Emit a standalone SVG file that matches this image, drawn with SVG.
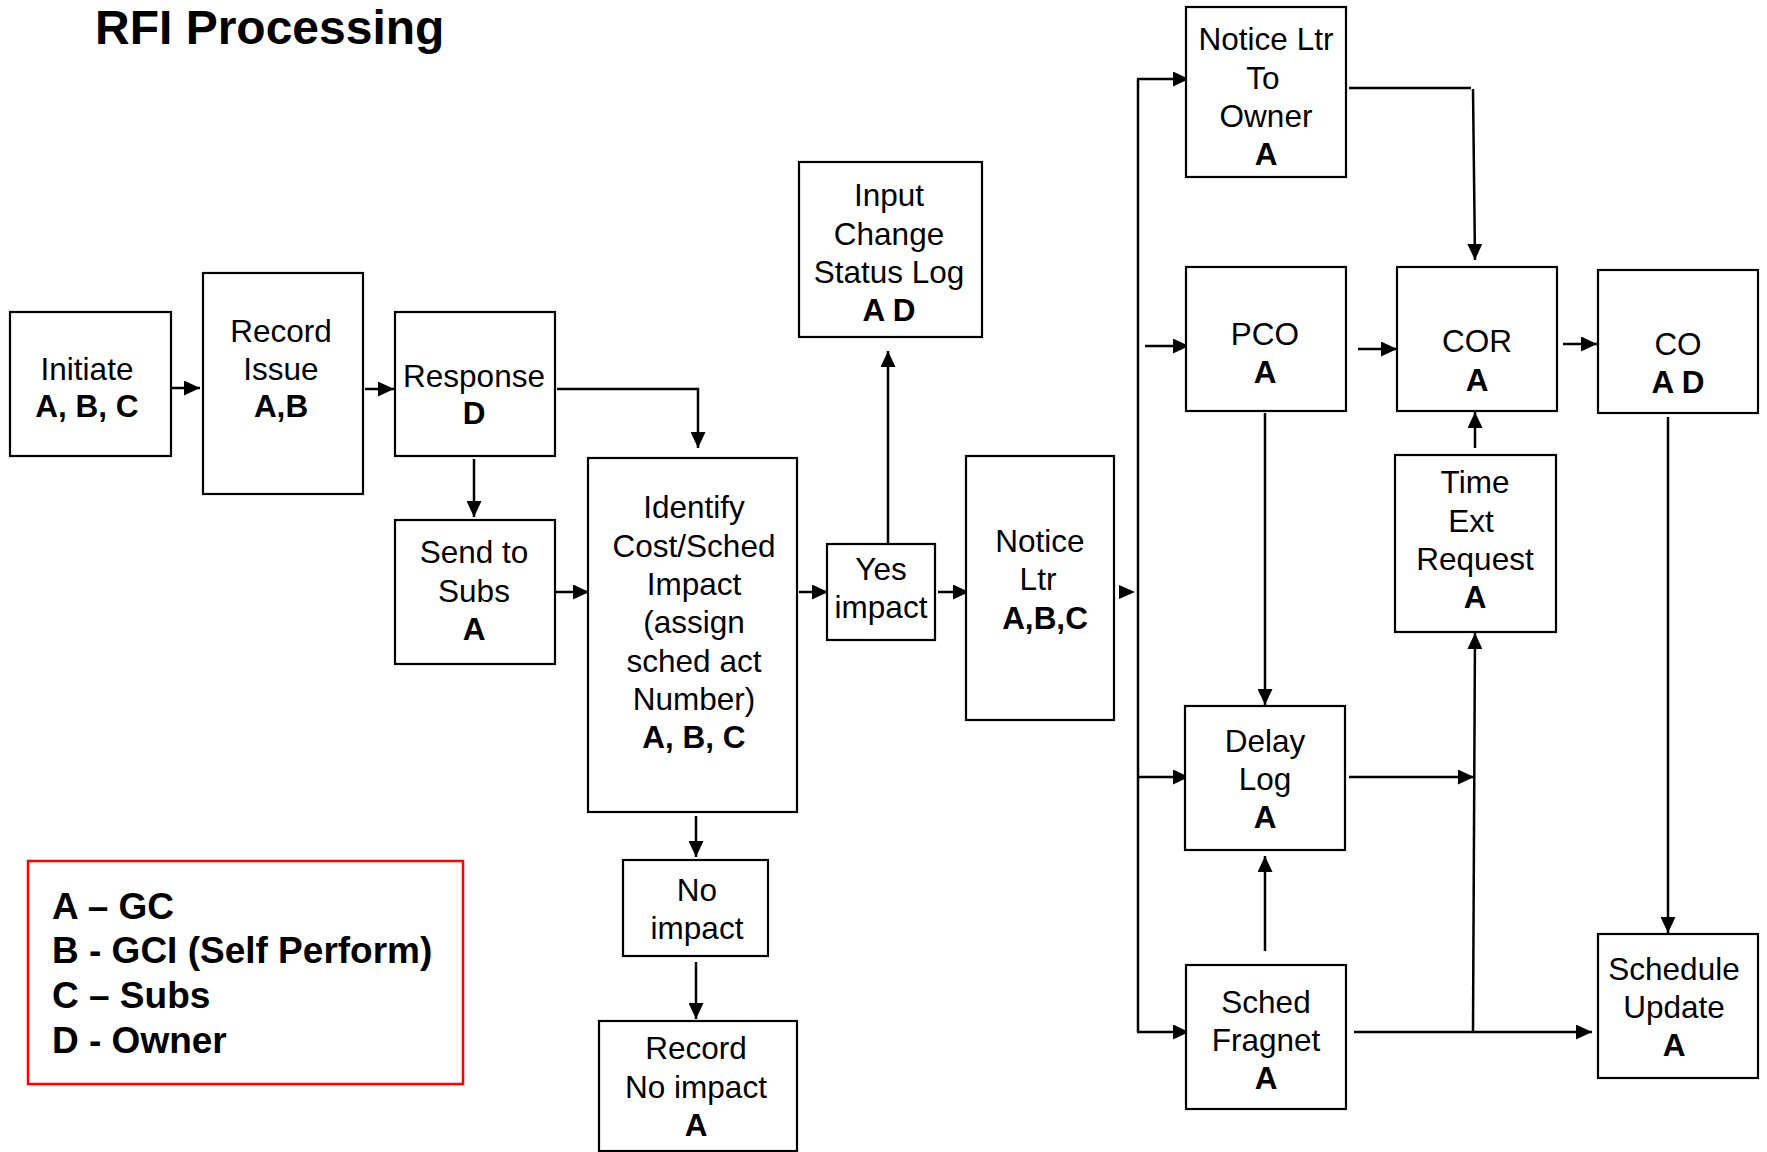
<svg xmlns="http://www.w3.org/2000/svg" width="1767" height="1152" viewBox="0 0 1767 1152">
<style>
.box{fill:#fff;stroke:#000;stroke-width:2.2}
.t{font-family:"Liberation Sans",Arial,sans-serif;font-size:31.5px;fill:#000;text-anchor:middle}
.b{font-weight:bold}
.c{fill:none;stroke:#000;stroke-width:2.5}
.leg{font-family:"Liberation Sans",Arial,sans-serif;font-size:37px;font-weight:bold;fill:#000}
</style>
<defs>
<marker id="ah" markerUnits="userSpaceOnUse" markerWidth="16" markerHeight="15" viewBox="0 0 16 15" refX="16" refY="7.5" orient="auto">
<path d="M0,0 L16,7.5 L0,15 z" fill="#000"/>
</marker>
</defs>
<rect width="1767" height="1152" fill="#fff"/>
<text x="95" y="44" font-family="Liberation Sans,Arial,sans-serif" font-size="48" font-weight="bold">RFI Processing</text>

<g id="connectors">
<path class="c" d="M171,388 L200,388" marker-end="url(#ah)"/>
<path class="c" d="M365,389 L394,389" marker-end="url(#ah)"/>
<path class="c" d="M557,389 L698,389 L698,448" marker-end="url(#ah)"/>
<path class="c" d="M474,459 L474,517" marker-end="url(#ah)"/>
<path class="c" d="M556,592 L589,592" marker-end="url(#ah)"/>
<path class="c" d="M799,592 L828,592" marker-end="url(#ah)"/>
<path class="c" d="M888,544 L888,351" marker-end="url(#ah)"/>
<path class="c" d="M938,592 L969,592" marker-end="url(#ah)"/>
<polygon points="1119,585 1135,592 1119,599" fill="#000"/>
<path class="c" d="M1138,79 L1138,1032"/>
<path class="c" d="M1137,79 L1189,79" marker-end="url(#ah)"/>
<path class="c" d="M1137,777 L1189,777" marker-end="url(#ah)"/>
<path class="c" d="M1137,1032 L1189,1032" marker-end="url(#ah)"/>
<path class="c" d="M1145,346 L1189,346" marker-end="url(#ah)"/>
<path class="c" d="M1349,88 L1471,88"/>
<path class="c" d="M1473,89 L1475,260" marker-end="url(#ah)"/>
<path class="c" d="M1358,349 L1397,349" marker-end="url(#ah)"/>
<path class="c" d="M1563,344 L1597,344" marker-end="url(#ah)"/>
<path class="c" d="M1475,448 L1475,412" marker-end="url(#ah)"/>
<path class="c" d="M1668,417 L1668,933" marker-end="url(#ah)"/>
<path class="c" d="M1265,413 L1265,705" marker-end="url(#ah)"/>
<path class="c" d="M1349,777 L1474,777" marker-end="url(#ah)"/>
<path class="c" d="M1473,1032 L1475,633" marker-end="url(#ah)"/>
<path class="c" d="M1265,951 L1265,856" marker-end="url(#ah)"/>
<path class="c" d="M1354,1032 L1592,1032" marker-end="url(#ah)"/>
<path class="c" d="M696,816 L696,857" marker-end="url(#ah)"/>
<path class="c" d="M696,962 L696,1019" marker-end="url(#ah)"/>
</g>

<g id="initiate">
<rect class="box" x="10" y="312" width="161" height="144"/>
<text class="t" x="87" y="380">Initiate</text>
<text class="t b" x="87" y="417">A, B, C</text>
</g>
<g id="record-issue">
<rect class="box" x="203" y="273" width="160" height="221"/>
<text class="t" x="281" y="342">Record</text>
<text class="t" x="281" y="380">Issue</text>
<text class="t b" x="281" y="417">A,B</text>
</g>
<g id="response">
<rect class="box" x="395" y="312" width="160" height="144"/>
<text class="t" x="474" y="387">Response</text>
<text class="t b" x="474" y="424">D</text>
</g>
<g id="send-to-subs">
<rect class="box" x="395" y="520" width="160" height="144"/>
<text class="t" x="474" y="563">Send to</text>
<text class="t" x="474" y="602">Subs</text>
<text class="t b" x="474" y="640">A</text>
</g>
<g id="identify">
<rect class="box" x="588" y="458" width="209" height="354"/>
<text class="t" x="694" y="518">Identify</text>
<text class="t" x="694" y="557">Cost/Sched</text>
<text class="t" x="694" y="595">Impact</text>
<text class="t" x="694" y="633">(assign</text>
<text class="t" x="694" y="672">sched act</text>
<text class="t" x="694" y="710">Number)</text>
<text class="t b" x="694" y="748">A, B, C</text>
</g>
<g id="yes-impact">
<rect class="box" x="827" y="544" width="108" height="96"/>
<text class="t" x="881" y="580">Yes</text>
<text class="t" x="881" y="618">impact</text>
</g>
<g id="input-change">
<rect class="box" x="799" y="162" width="183" height="175"/>
<text class="t" x="889" y="206">Input</text>
<text class="t" x="889" y="245">Change</text>
<text class="t" x="889" y="283">Status Log</text>
<text class="t b" x="889" y="321">A D</text>
</g>
<g id="notice-ltr">
<rect class="box" x="966" y="456" width="148" height="264"/>
<text class="t" x="1040" y="552">Notice</text>
<text class="t" x="1038" y="590">Ltr</text>
<text class="t b" x="1045" y="629">A,B,C</text>
</g>
<g id="notice-ltr-owner">
<rect class="box" x="1186" y="7" width="160" height="170"/>
<text class="t" x="1266" y="50">Notice Ltr</text>
<text class="t" x="1263" y="89">To</text>
<text class="t" x="1266" y="127">Owner</text>
<text class="t b" x="1266" y="165">A</text>
</g>
<g id="pco">
<rect class="box" x="1186" y="267" width="160" height="144"/>
<text class="t" x="1265" y="345">PCO</text>
<text class="t b" x="1265" y="383">A</text>
</g>
<g id="cor">
<rect class="box" x="1397" y="267" width="160" height="144"/>
<text class="t" x="1477" y="352">COR</text>
<text class="t b" x="1477" y="391">A</text>
</g>
<g id="co">
<rect class="box" x="1598" y="270" width="160" height="143"/>
<text class="t" x="1678" y="355">CO</text>
<text class="t b" x="1678" y="393">A D</text>
</g>
<g id="time-ext">
<rect class="box" x="1395" y="455" width="161" height="177"/>
<text class="t" x="1475" y="493">Time</text>
<text class="t" x="1471" y="532">Ext</text>
<text class="t" x="1475" y="570">Request</text>
<text class="t b" x="1475" y="608">A</text>
</g>
<g id="delay-log">
<rect class="box" x="1185" y="706" width="160" height="144"/>
<text class="t" x="1265" y="752">Delay</text>
<text class="t" x="1265" y="790">Log</text>
<text class="t b" x="1265" y="828">A</text>
</g>
<g id="sched-fragnet">
<rect class="box" x="1186" y="965" width="160" height="144"/>
<text class="t" x="1266" y="1013">Sched</text>
<text class="t" x="1266" y="1051">Fragnet</text>
<text class="t b" x="1266" y="1089">A</text>
</g>
<g id="schedule-update">
<rect class="box" x="1598" y="934" width="160" height="144"/>
<text class="t" x="1674" y="980">Schedule</text>
<text class="t" x="1674" y="1018">Update</text>
<text class="t b" x="1674" y="1056">A</text>
</g>
<g id="no-impact">
<rect class="box" x="623" y="860" width="145" height="96"/>
<text class="t" x="697" y="901">No</text>
<text class="t" x="697" y="939">impact</text>
</g>
<g id="record-no-impact">
<rect class="box" x="599" y="1021" width="198" height="130"/>
<text class="t" x="696" y="1059">Record</text>
<text class="t" x="696" y="1098">No impact</text>
<text class="t b" x="696" y="1136">A</text>
</g>
<g id="legend">
<rect x="28" y="861" width="435" height="223" fill="#fff" stroke="#ff0000" stroke-width="2.5"/>
<text class="leg" x="52" y="919">A – GC</text>
<text class="leg" x="52" y="963">B - GCI (Self Perform)</text>
<text class="leg" x="52" y="1008">C – Subs</text>
<text class="leg" x="52" y="1053">D - Owner</text>
</g>
</svg>
